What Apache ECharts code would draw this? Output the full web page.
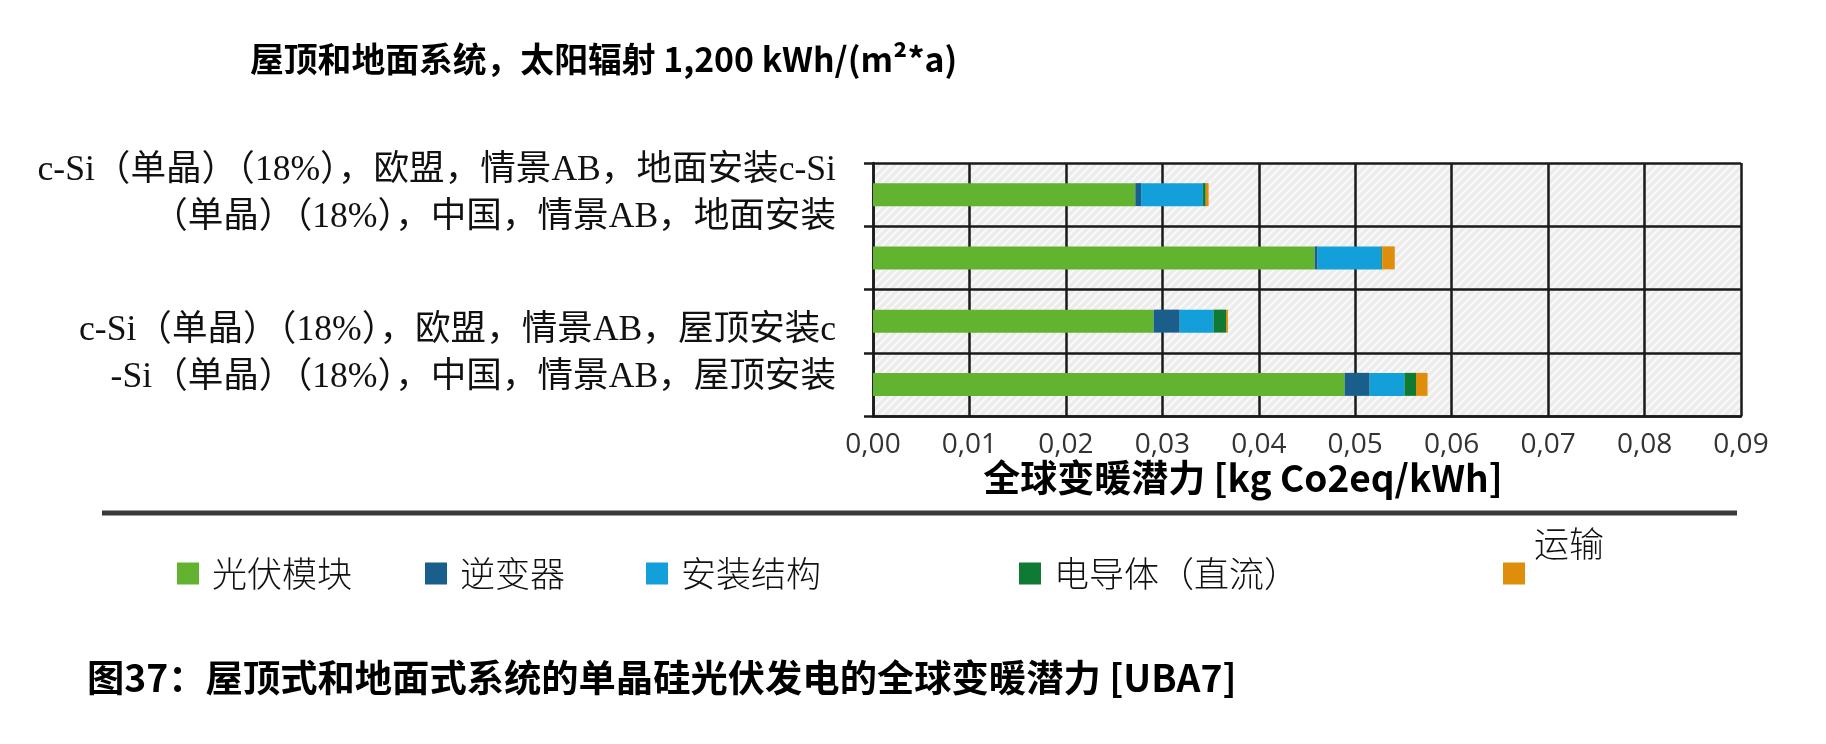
<!DOCTYPE html>
<html>
<head>
<meta charset="utf-8">
<script src="https://cdn.jsdelivr.net/npm/echarts@6/dist/echarts.min.js"></script>
<style>
html,body{margin:0;padding:0;background:#fff;}
#main{width:1826px;height:744px;}
</style>
</head>
<body>
<div id="main"></div>
<script>
// 类别（从上到下）
var categories = [
    'c-Si（单晶）（18%），欧盟，情景AB，地面安装',
    'c-Si（单晶）（18%），中国，情景AB，地面安装',
    'c-Si（单晶）（18%），欧盟，情景AB，屋顶安装',
    'c-Si（单晶）（18%），中国，情景AB，屋顶安装'
];
// 原图中的轴标签（自动换行后的样子）
var yTickLabels = [
    ['c-Si（单晶）（18%），欧盟，情景AB，地面安装c-Si', '（单晶）（18%），中国，情景AB，地面安装'],
    [],
    ['c-Si（单晶）（18%），欧盟，情景AB，屋顶安装c', '-Si（单晶）（18%），中国，情景AB，屋顶安装'],
    []
];
var seriesNames = ['光伏模块', '逆变器', '安装结构', '电导体（直流）', '运输'];
var pvModule  = [0.0272, 0.0458, 0.0291, 0.0489];
var inverter  = [0.0006, 0.0003, 0.0027, 0.0026];
var mounting  = [0.0064, 0.0066, 0.0035, 0.0036];
var dcCable   = [0.0003, 0.0001, 0.0013, 0.0012];
var transport = [0.0003, 0.0013, 0.0002, 0.0012];
var seriesValues = [pvModule, inverter, mounting, dcCable, transport];
var colors = ['#62b32f', '#1a5e8c', '#139fd9', '#0e7a33', '#df8e0b'];

var cjk = "'Noto Sans CJK SC', sans-serif";
var serif = "'Liberation Serif', 'Noto Sans CJK SC', serif";

// 斜线底纹
function hatch() {
    var c = document.createElement('canvas');
    c.width = c.height = 8;
    var g = c.getContext('2d');
    g.fillStyle = '#ececec';
    g.fillRect(0, 0, 8, 8);
    g.strokeStyle = '#f9f9f9';
    g.lineWidth = 2;
    g.beginPath();
    g.moveTo(0, 8); g.lineTo(8, 0);
    g.moveTo(-2, 2); g.lineTo(2, -2);
    g.moveTo(6, 10); g.lineTo(10, 6);
    g.stroke();
    return c;
}

var legendLeft = [177, 425, 646, 1019, 1503];
var legends = seriesNames.map(function (n, i) {
    var last = i == seriesNames.length - 1;
    return {
        data: [n],
        left: legendLeft[i],
        top: last ? 526 : 556,
        padding: 0,
        icon: 'rect',
        itemWidth: 22,
        itemHeight: 22,
        selectedMode: false,
        // 运输 的文字在图标右上方
        formatter: last ? '{t|{name}}\n{sp| }' : '{t|{name}}',
        textStyle: {
            fontSize: 35,
            fontFamily: cjk,
            fontWeight: 300,
            color: '#111',
            rich: {
                t: {fontSize: 35, fontFamily: cjk, fontWeight: 300, color: '#111', lineHeight: 36,
                    padding: [0, 0, 0, last ? 4 : 8]},
                sp: {fontSize: 2, lineHeight: 60}
            }
        }
    };
});

var series = seriesNames.map(function (n, i) {
    return {
        name: n,
        type: 'bar',
        stack: 'gwp',
        barWidth: 23,
        data: seriesValues[i],
        itemStyle: {color: colors[i]}
    };
});

var myChart = echarts.init(document.getElementById('main'));
var option = {
    backgroundColor: '#fff',
    animation: false,
    title: [{
        text: '屋顶和地面系统，太阳辐射 1,200 kWh/(m²*a)',
        left: 250, top: 42, padding: 0,
        textStyle: {fontSize: 33.8, fontWeight: 'bold', fontFamily: cjk, color: '#000'}
    }, {
        text: '图37：屋顶式和地面式系统的单晶硅光伏发电的全球变暖潜力 [UBA7]',
        left: 87, top: 659, padding: 0,
        textStyle: {fontSize: 37.3, fontWeight: 'bold', fontFamily: cjk, color: '#000'}
    }],
    legend: legends,
    grid: {
        left: 873, right: 85, top: 163, bottom: 328,
        outerBoundsMode: 'none',
        show: true,
        borderWidth: 0,
        backgroundColor: {image: hatch(), repeat: 'repeat'}
    },
    xAxis: {
        type: 'value',
        min: 0, max: 0.09, interval: 0.01,
        name: '全球变暖潜力 [kg Co2eq/kWh]',
        nameLocation: 'middle',
        nameGap: 33,
        nameTextStyle: {fontSize: 37, fontWeight: 'bold', fontFamily: cjk, color: '#000', padding: [0, 128, 0, 0]},
        axisLine: {show: true, lineStyle: {color: '#1a1a1a', width: 2.5}},
        axisTick: {show: false},
        splitLine: {show: true, lineStyle: {color: '#1a1a1a', width: 2.5}},
        axisLabel: {
            fontSize: 28, fontFamily: "'Open Sans', sans-serif", color: '#333', margin: 15,
            formatter: function (v) { return v.toFixed(2).replace('.', ','); }
        }
    },
    yAxis: {
        type: 'category',
        inverse: true,
        data: categories,
        axisLine: {show: true, lineStyle: {color: '#1a1a1a', width: 2.5}},
        axisTick: {show: true, length: 9, lineStyle: {color: '#1a1a1a', width: 2.5}},
        splitLine: {show: true, lineStyle: {color: '#1a1a1a', width: 2.5}},
        axisLabel: {
            interval: 0,
            margin: 37,
            fontSize: 35.6,
            fontFamily: serif,
            color: '#111',
            lineHeight: 47,
            formatter: function (v, idx) {
                var lines = yTickLabels[idx];
                if (!lines.length) return '';
                // 第二组标签在原图中位于两行之间
                var head = idx == 2 ? '{sp| }\n' : '';
                return head + '{a|' + lines[0] + '}\n{a|' + lines[1] + '}';
            },
            rich: {
                a: {fontSize: 35.6, fontFamily: serif, color: '#111', lineHeight: 47},
                sp: {fontSize: 2, lineHeight: 66}
            }
        }
    },
    graphic: [{
        type: 'line',
        shape: {x1: 102, y1: 513, x2: 1737, y2: 513},
        style: {stroke: '#3a3a3a', lineWidth: 5}
    }],
    series: series
};
myChart.setOption(option);
</script>
</body>
</html>
